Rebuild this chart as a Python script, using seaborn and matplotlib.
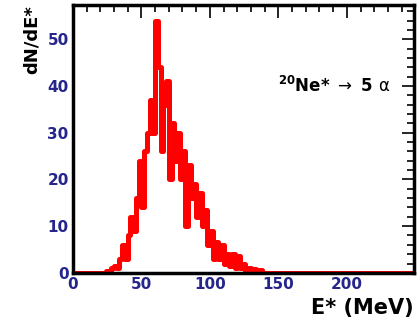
import numpy as np
import pandas as pd
import matplotlib
matplotlib.use("Agg")
import matplotlib.pyplot as plt
import seaborn as sns
from matplotlib.ticker import MultipleLocator

# 2 MeV bins from 0 to 250
bin_lo = np.arange(0, 250, 2)
# counts (24..138 MeV), zero elsewhere
energies = [24, 26, 28, 30, 32, 34, 36, 38, 40, 42, 44, 46, 48, 50, 52, 54, 56, 58,
            60, 62, 64, 66, 68, 70, 72, 74, 76, 78, 80, 82, 84, 86, 88, 90, 92, 94,
            96, 98, 100, 102, 104, 106, 108, 110, 112, 114, 116, 118, 120, 122, 124,
            126, 128, 130, 132, 134, 136, 138]
counts = [0.3, 0.5, 1, 1.5, 1, 3, 6, 3, 8, 12, 9, 16, 24, 14, 26, 30, 37, 30,
          54, 44, 26, 36, 41, 20, 32, 24, 30, 20, 26, 10, 23, 16, 19, 12, 17, 10,
          13.5, 6, 9, 3, 6.5, 3, 6, 2, 4, 1.5, 4, 1, 3.5, 1, 2,
          0.5, 1, 0.3, 0.8, 0.2, 0.6, 0]

weights = np.zeros(len(bin_lo))
for e, c in zip(energies, counts):
    weights[bin_lo == e] = c
df = pd.DataFrame({"E": bin_lo + 1, "w": weights})

sns.set_style("white")
plt.rcParams["font.family"] = ["DejaVu Sans"]
plt.rcParams["mathtext.fontset"] = "dejavusans"

fig = plt.figure(figsize=(4.19, 3.21), dpi=100)
ax = fig.add_axes([0.174, 0.15, 0.814, 0.834])

sns.histplot(data=df, x="E", weights="w", binwidth=2, binrange=(0, 250),
             element="step", fill=False, color="#ff0000", linewidth=3.6, ax=ax)

ax.set_xlim(0, 249)
ax.set_ylim(0, 57.3)
ax.xaxis.set_major_locator(MultipleLocator(50))
ax.xaxis.set_minor_locator(MultipleLocator(10))
ax.yaxis.set_major_locator(MultipleLocator(10))
ax.yaxis.set_minor_locator(MultipleLocator(2))
ax.tick_params(which="both", direction="in", top=True, right=True,
               colors="black", width=1.2)
ax.tick_params(which="major", length=9, labelsize=11, labelcolor="#25258c", pad=3)
ax.tick_params(which="minor", length=5)
for lab in ax.get_xticklabels() + ax.get_yticklabels():
    lab.set_fontweight("bold")
for s in ax.spines.values():
    s.set_linewidth(2.5)
    s.set_color("black")

ax.set_xlabel("E* (MeV)", loc="right", fontsize=15, fontweight="bold",
              color="black", labelpad=4)
ax.set_ylabel("dN/dE*", loc="top", fontsize=13, fontweight="bold",
              color="black", labelpad=5)

ax.text(150, 40, r"$^{\mathbf{20}}$Ne* $\rightarrow$ 5 $\mathrm{\alpha}$",
        fontsize=12, fontweight="bold", color="black", va="center")

fig.savefig("out.png", dpi=100)
